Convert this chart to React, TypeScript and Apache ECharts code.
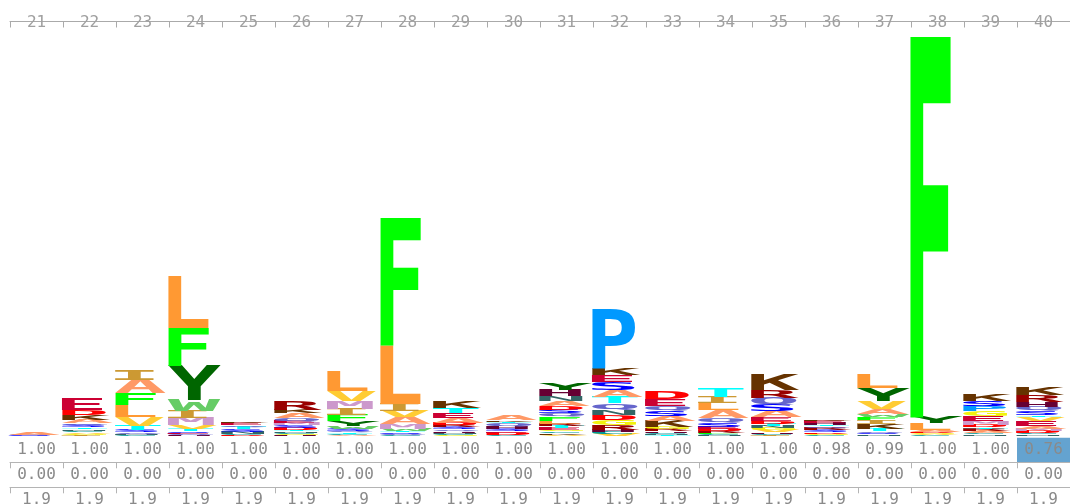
import React, { useEffect, useRef } from "react";
import * as echarts from "echarts";

// ---- data ----
const positions = [21, 22, 23, 24, 25, 26, 27, 28, 29, 30, 31, 32, 33, 34, 35, 36, 37, 38, 39, 40];
const occupancy = [1.0, 1.0, 1.0, 1.0, 1.0, 1.0, 1.0, 1.0, 1.0, 1.0, 1.0, 1.0, 1.0, 1.0, 1.0, 0.98, 0.99, 1.0, 1.0, 0.76];
const insertProb = [0.0, 0.0, 0.0, 0.0, 0.0, 0.0, 0.0, 0.0, 0.0, 0.0, 0.0, 0.0, 0.0, 0.0, 0.0, 0.0, 0.0, 0.0, 0.0, 0.0];
const insertLen = [1.9, 1.9, 1.9, 1.9, 1.9, 1.9, 1.9, 1.9, 1.9, 1.9, 1.9, 1.9, 1.9, 1.9, 1.9, 1.9, 1.9, 1.9, 1.9, 1.9];

// letter stacks, listed top -> bottom, heights in bits
type Stack = [string, number][];
const col21: Stack = [["A", 0.018], ["Q", 0.006], ["S", 0.006]];
const col22: Stack = [["E", 0.11], ["D", 0.05], ["K", 0.045], ["A", 0.04], ["Q", 0.02], ["S", 0.02], ["T", 0.015], ["N", 0.015], ["C", 0.015], ["V", 0.015], ["G", 0.015], ["I", 0.01]];
const col23: Stack = [["I", 0.1], ["A", 0.14], ["F", 0.11], ["L", 0.12], ["V", 0.09], ["T", 0.05], ["S", 0.02], ["Q", 0.015], ["N", 0.01], ["C", 0.01]];
const col24: Stack = [["L", 0.52], ["F", 0.37], ["Y", 0.35], ["W", 0.11], ["I", 0.07], ["M", 0.07], ["V", 0.04], ["T", 0.02], ["S", 0.015], ["E", 0.01], ["Q", 0.01], ["H", 0.01]];
const col25: Stack = [["K", 0.015], ["E", 0.025], ["Q", 0.02], ["T", 0.02], ["S", 0.025], ["N", 0.02], ["C", 0.01], ["D", 0.01]];
const col26: Stack = [["R", 0.09], ["K", 0.035], ["A", 0.05], ["Q", 0.03], ["E", 0.02], ["M", 0.02], ["S", 0.025], ["D", 0.02], ["T", 0.015], ["N", 0.015], ["C", 0.01], ["G", 0.01], ["H", 0.01]];
const col27: Stack = [["L", 0.2], ["V", 0.1], ["M", 0.08], ["I", 0.06], ["F", 0.065], ["Y", 0.05], ["W", 0.025], ["S", 0.02], ["Q", 0.015], ["T", 0.015], ["C", 0.01], ["A", 0.01]];
const col28: Stack = [["F", 1.28], ["L", 0.58], ["I", 0.075], ["V", 0.06], ["A", 0.07], ["M", 0.045], ["W", 0.02], ["T", 0.015], ["S", 0.015], ["Q", 0.01], ["C", 0.01]];
const col29: Stack = [["K", 0.065], ["T", 0.05], ["E", 0.05], ["A", 0.05], ["D", 0.02], ["R", 0.02], ["S", 0.02], ["Q", 0.02], ["H", 0.015], ["N", 0.015], ["C", 0.01], ["G", 0.01]];
const col30: Stack = [["A", 0.05], ["K", 0.015], ["T", 0.015], ["Q", 0.025], ["H", 0.03], ["S", 0.02], ["E", 0.015], ["D", 0.025], ["C", 0.01]];
const col31: Stack = [["Y", 0.067], ["H", 0.067], ["N", 0.05], ["A", 0.05], ["D", 0.035], ["S", 0.035], ["Q", 0.035], ["F", 0.04], ["L", 0.03], ["R", 0.02], ["T", 0.02], ["E", 0.02], ["G", 0.015], ["C", 0.015], ["K", 0.015], ["V", 0.015]];
const col32: Stack = [["P", 0.6], ["K", 0.067], ["E", 0.067], ["S", 0.083], ["A", 0.067], ["T", 0.067], ["Q", 0.067], ["N", 0.05], ["D", 0.05], ["G", 0.05], ["R", 0.05], ["H", 0.02], ["C", 0.02], ["V", 0.02]];
const col33: Stack = [["D", 0.07], ["E", 0.065], ["Q", 0.05], ["S", 0.05], ["A", 0.057], ["K", 0.06], ["G", 0.02], ["R", 0.02], ["H", 0.015], ["C", 0.01], ["N", 0.01], ["T", 0.01]];
const col34: Stack = [["T", 0.085], ["I", 0.065], ["L", 0.07], ["A", 0.08], ["Q", 0.04], ["S", 0.045], ["E", 0.02], ["D", 0.02], ["R", 0.02], ["F", 0.01], ["C", 0.01], ["N", 0.01]];
const col35: Stack = [["K", 0.15], ["R", 0.083], ["Q", 0.07], ["S", 0.06], ["A", 0.06], ["E", 0.04], ["D", 0.03], ["T", 0.02], ["N", 0.02], ["G", 0.02], ["V", 0.02], ["H", 0.015], ["C", 0.015], ["I", 0.01]];
const col36: Stack = [["K", 0.015], ["E", 0.02], ["H", 0.02], ["T", 0.015], ["Q", 0.02], ["R", 0.02], ["S", 0.02], ["D", 0.015], ["G", 0.01], ["C", 0.01]];
const col37: Stack = [["L", 0.14], ["Y", 0.13], ["V", 0.08], ["A", 0.05], ["W", 0.03], ["F", 0.03], ["I", 0.04], ["K", 0.05], ["T", 0.02], ["Q", 0.02], ["S", 0.015], ["N", 0.015]];
const col38: Stack = [["F", 3.81], ["Y", 0.065], ["L", 0.065], ["A", 0.02], ["D", 0.015], ["G", 0.01], ["V", 0.01], ["C", 0.006]];
const col39: Stack = [["K", 0.067], ["S", 0.05], ["P", 0.05], ["G", 0.05], ["E", 0.05], ["M", 0.04], ["D", 0.02], ["T", 0.015], ["R", 0.02], ["A", 0.02], ["C", 0.015], ["N", 0.015]];
const col40: Stack = [["K", 0.083], ["R", 0.067], ["H", 0.05], ["Q", 0.04], ["S", 0.045], ["T", 0.015], ["V", 0.04], ["E", 0.05], ["A", 0.03], ["M", 0.02], ["D", 0.02], ["C", 0.015], ["N", 0.015]];
const stacks: Stack[] = [col21, col22, col23, col24, col25, col26, col27, col28, col29, col30, col31, col32, col33, col34, col35, col36, col37, col38, col39, col40];

const aaColors: Record<string, string> = {
  A: "#FF9966", C: "#009999", D: "#FF0000", E: "#CC0033", F: "#00FF00",
  G: "#f2f20c", H: "#660033", I: "#CC9933", K: "#663300", L: "#FF9933",
  M: "#CC99CC", N: "#336666", P: "#0099FF", Q: "#6666CC", R: "#990000",
  S: "#0000FF", T: "#00FFFF", V: "#FFCC33", W: "#66CC66", Y: "#006600",
};
const AA = "ACDEFGHIKLMNPQRSTVWY";

const LETTER_FONT = 'bold 100px "DejaVu Sans Mono"';
const MONO = "DejaVu Sans Mono";

type Metric = { aL: number; aR: number; aA: number; aD: number; c: number };

function measureLetters(): Record<string, Metric> {
  const cv = document.createElement("canvas");
  const ctx = cv.getContext("2d")!;
  ctx.font = LETTER_FONT;
  const out: Record<string, Metric> = {};
  for (const ch of AA) {
    const m = ctx.measureText(ch);
    out[ch] = {
      aL: m.actualBoundingBoxLeft,
      aR: m.actualBoundingBoxRight,
      aA: m.actualBoundingBoxAscent,
      aD: m.actualBoundingBoxDescent,
      c: (m.fontBoundingBoxAscent - m.fontBoundingBoxDescent) / 2,
    };
  }
  return out;
}

export default function App() {
  const ref = useRef<HTMLDivElement>(null);
  useEffect(() => {
    if (!ref.current) return;
    const chart = echarts.init(ref.current, undefined, { renderer: "svg" });
    const metrics = measureLetters();
    const yInk = metrics["Y"].aL + metrics["Y"].aR;

    // build letter records: [x, yBottom, yTop, letterIndex]
    const letterData: number[][] = [];
    stacks.forEach((st, i) => {
      let base = 0;
      for (let k = st.length - 1; k >= 0; k--) {
        const [ch, h] = st[k];
        letterData.push([positions[i], base, base + h, AA.indexOf(ch)]);
        base += h;
      }
    });

    const W = 1066.67;
    const gridLeft = 2;
    const rowTops = [429.3, 454.3, 479.3];

    const rowAxis = (gi: number, labels: string[]) => ({
      type: "category",
      gridIndex: gi,
      position: "top",
      data: labels,
      axisLine: { show: true, lineStyle: { color: "#b4b4b4", width: 1 } },
      axisTick: { show: true, inside: true, length: 6, lineStyle: { color: "#b4b4b4" } },
      axisLabel: { inside: true, margin: 3, interval: 0, color: "#8a8a8a", fontFamily: MONO, fontSize: 16 },
      splitLine: { show: false },
    });

    chart.setOption({
      animation: false,
      grid: [
        { left: gridLeft, top: 28, width: W, height: 400 },
        { left: gridLeft, top: 3.5, width: W, height: 10 },
        { left: gridLeft, top: rowTops[0], width: W, height: 25 },
        { left: gridLeft, top: rowTops[1], width: W, height: 25 },
        { left: gridLeft, top: rowTops[2], width: W, height: 25 },
      ],
      xAxis: [
        { type: "value", gridIndex: 0, min: 20.5, max: 40.5, show: false },
        {
          type: "category",
          gridIndex: 1,
          position: "top",
          data: positions.map(String),
          axisLine: { show: true, lineStyle: { color: "#aaaaaa", width: 1 } },
          axisTick: { show: true, inside: true, length: 6, lineStyle: { color: "#aaaaaa" } },
          axisLabel: { inside: true, margin: 2, interval: 0, color: "#a0a0a0", fontFamily: MONO, fontSize: 16 },
        },
        rowAxis(2, occupancy.map((v) => v.toFixed(2))),
        rowAxis(3, insertProb.map((v) => v.toFixed(2))),
        rowAxis(4, insertLen.map((v) => v.toFixed(1))),
      ],
      yAxis: [
        { type: "value", gridIndex: 0, min: 0, max: 4, show: false },
        { type: "value", gridIndex: 1, min: 0, max: 1, show: false },
        { type: "value", gridIndex: 2, min: 0, max: 1, show: false },
        { type: "value", gridIndex: 3, min: 0, max: 1, show: false },
        { type: "value", gridIndex: 4, min: 0, max: 1, show: false },
      ],
      series: [
        {
          type: "custom",
          xAxisIndex: 0,
          yAxisIndex: 0,
          clip: false,
          silent: true,
          encode: { x: 0, y: [1, 2] },
          data: letterData,
          renderItem: (params: any, api: any) => {
            const xv = api.value(0);
            const ch = AA[api.value(3)];
            const pBot = api.coord([xv, api.value(1)]);
            const pTop = api.coord([xv, api.value(2)]);
            const colW = api.size([1, 0])[0];
            const hgt = pBot[1] - pTop[1];
            if (hgt < 0.5) return null;
            const m = metrics[ch];
            const inkW = m.aL + m.aR;
            const baseScale = colW / yInk;
            const screenW = Math.min(inkW * baseScale, colW + 0.2);
            const sx = screenW / inkW;
            const sy = hgt / (m.aA + m.aD);
            const left = pBot[0] - colW / 2 - 1.3;
            return {
              type: "text",
              x: left + sx * m.aL,
              y: pTop[1] - sy * (m.c - m.aA),
              scaleX: sx,
              scaleY: sy,
              style: {
                text: ch,
                x: 0,
                y: 0,
                font: LETTER_FONT,
                fill: aaColors[ch],
                align: "left",
                verticalAlign: "middle",
                textAlign: "left",
                textVerticalAlign: "middle",
              },
            };
          },
        },
        {
          type: "custom",
          xAxisIndex: 2,
          yAxisIndex: 2,
          z: -1,
          silent: true,
          data: occupancy.map((v, i) => [i, v]).filter((d) => d[1] < 0.9),
          renderItem: (params: any, api: any) => {
            const idx = api.value(0);
            const top = api.coord([idx, 1]);
            const bot = api.coord([idx, 0]);
            const w = api.size([1, 0])[0];
            return {
              type: "rect",
              shape: { x: top[0] - w / 2, y: top[1] + 0.5, width: w, height: bot[1] - top[1] - 0.5 },
              style: { fill: "#64a3d0" },
            };
          },
        },
      ],
    });
    return () => chart.dispose();
  }, []);
  return (
    <div
      ref={ref}
      style={{ position: "fixed", left: 8, top: 8, width: 1062, height: 496 }}
    />
  );
}
